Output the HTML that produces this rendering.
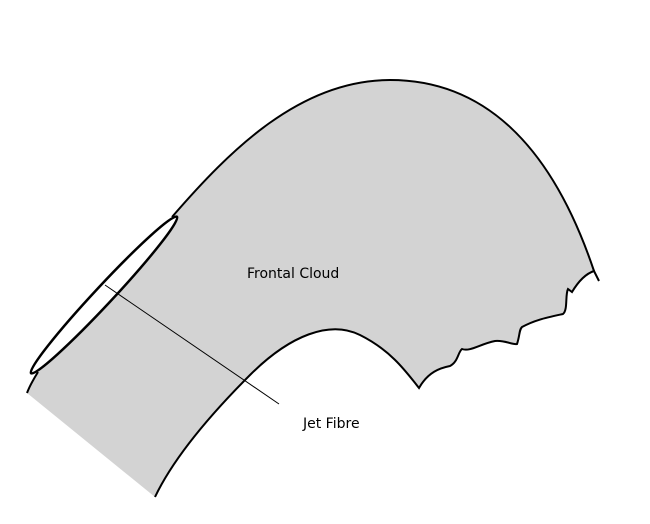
<!DOCTYPE html>
<html><head><style>
html,body{margin:0;padding:0;background:#fff;}
svg{display:block;}
text{font-family:"DejaVu Sans","Liberation Sans",sans-serif;font-size:14px;fill:#000;}
</style></head><body>
<svg width="650" height="524" viewBox="0 0 650 524" xmlns="http://www.w3.org/2000/svg">
<path d="M27,393 L155,497 C175,455 215,410 250,375 C290,335 330,320 360,335 C390,350 405,370 419,388 C428,372 440,368 450,366 C458,362 458,352 462,349 C470,352 480,344 495,341 C505,340 512,345 517,344 C520,335 519,330 522,327 C535,320 545,318 563,314 C568,310 565,295 568,289 L572,292 C578,282 585,274 594,271 C550,140 480,80 390,80 C300,80 230,150 172,217 C120,280 70,330 38,372 Z" fill="#d3d3d3" stroke="none"/>
<path d="M155,497 C175,455 215,410 250,375 C290,335 330,320 360,335 C390,350 405,370 419,388 C428,372 440,368 450,366 C458,362 458,352 462,349 C470,352 480,344 495,341 C505,340 512,345 517,344 C520,335 519,330 522,327 C535,320 545,318 563,314 C568,310 565,295 568,289 L572,292 C578,282 585,274 594,271 L599,281" fill="none" stroke="#000" stroke-width="2"/>
<path d="M594,271 C550,140 480,80 390,80 C300,80 230,150 172,217" fill="none" stroke="#000" stroke-width="2"/>
<path d="M27,393 C30,385 33,380 38,372" fill="none" stroke="#000" stroke-width="2"/>
<ellipse cx="104" cy="295" rx="107" ry="9" transform="rotate(-47 104 295)" fill="#fff" stroke="#000" stroke-width="2.5"/>
<line x1="105" y1="285" x2="279" y2="404" stroke="#000" stroke-width="1"/>
<text x="247" y="278">Frontal Cloud</text>
<text x="303" y="428">Jet Fibre</text>
</svg>
</body></html>
